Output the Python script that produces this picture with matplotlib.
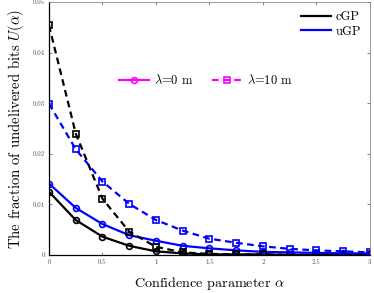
import numpy as np
import matplotlib
matplotlib.use("Agg")
from matplotlib import pyplot as plt
from matplotlib.lines import Line2D

plt.rcParams['font.family'] = ['cmr10', 'DejaVu Serif']
plt.rcParams['mathtext.fontset'] = 'cm'
plt.rcParams['axes.formatter.use_mathtext'] = True

alpha = [0, 0.25, 0.5, 0.75, 1.0, 1.25, 1.5, 1.75, 2.0, 2.25, 2.5, 2.75, 3.0]

# lambda = 0 m (solid, circles)
cgp_l0 = [0.0125, 0.0069, 0.0036, 0.0018, 0.0007, 0.0003, 0.0001, 0.0001,
          0.0001, 0.0, 0.0, 0.0, 0.0]
ugp_l0 = [0.0141, 0.0093, 0.0061, 0.0039, 0.0028, 0.0018, 0.0013, 0.0009,
          0.0006, 0.0005, 0.0004, 0.0003, 0.0003]
# lambda = 10 m (dashed, squares)
cgp_l10 = [0.0454, 0.0240, 0.0111, 0.0046, 0.0016, 0.0005, 0.0002, 0.0001,
           0.0001, 0.0, 0.0, 0.0, 0.0]
ugp_l10 = [0.0299, 0.0209, 0.0145, 0.0101, 0.0069, 0.0048, 0.0032, 0.0024,
           0.0017, 0.0012, 0.0009, 0.0007, 0.0005]

fig = plt.figure(figsize=(3.74, 2.93), dpi=100)
ax = fig.add_axes((0.131, 0.130, 0.858, 0.863))

style = dict(lw=1.6, ms=4.2, mfc='none', mew=1.2)
ax.plot(alpha, cgp_l0, '-', marker='o', color='black', **style)
ax.plot(alpha, ugp_l0, '-', marker='o', color='blue', **style)
ax.plot(alpha, cgp_l10, '--', marker='s', color='black', dashes=(3, 2), **style)
ax.plot(alpha, ugp_l10, '--', marker='s', color='blue', dashes=(3, 2), **style)

ax.set_xlim(0, 3)
ax.set_ylim(0, 0.05)
ax.set_xticks([0, 0.5, 1, 1.5, 2, 2.5, 3])
ax.set_xticklabels(['0', '0.5', '1', '1.5', '2', '2.5', '3'])
ax.set_yticks([0, 0.01, 0.02, 0.03, 0.04, 0.05])
ax.set_yticklabels(['0', '0.01', '0.02', '0.03', '0.04', '0.05'])
ax.tick_params(direction='in', top=True, right=True, labelsize=5,
               labelcolor='#555555', length=2.5, width=0.5, color='#555555',
               pad=3)
for side in ('top', 'right'):
    ax.spines[side].set_color('#888888')
    ax.spines[side].set_linewidth(0.6)
for side in ('left', 'bottom'):
    ax.spines[side].set_linewidth(0.9)

ax.set_xlabel(r'Confidence parameter $\alpha$', fontsize=10.2, labelpad=7)
ax.set_ylabel(r'The fraction of undelivered bits $U(\alpha)$', fontsize=10.6,
              labelpad=5)

h1 = [Line2D([], [], color='black', lw=1.6), Line2D([], [], color='blue', lw=1.6)]
leg1 = ax.legend(h1, ['cGP', 'uGP'], loc='upper right', frameon=False,
                 fontsize=9, handlelength=2.4, borderaxespad=0.3,
                 labelspacing=0.2, handletextpad=0.4)
ax.add_artist(leg1)

h2 = [Line2D([], [], color='magenta', lw=1.6, marker='o', ms=4.2, mfc='none', mew=1.2),
      Line2D([], [], color='magenta', lw=1.6, ls='--', dashes=(3, 2), marker='s',
             ms=4.2, mfc='none', mew=1.2)]
ax.legend(h2, [r'$\lambda$=0 m', r'$\lambda$=10 m'], loc='center',
          bbox_to_anchor=(0.49, 0.69), ncol=2, frameon=False, fontsize=9,
          handlelength=2.4, columnspacing=1.5, handletextpad=0.4)

fig.savefig('out.png', dpi=100)
